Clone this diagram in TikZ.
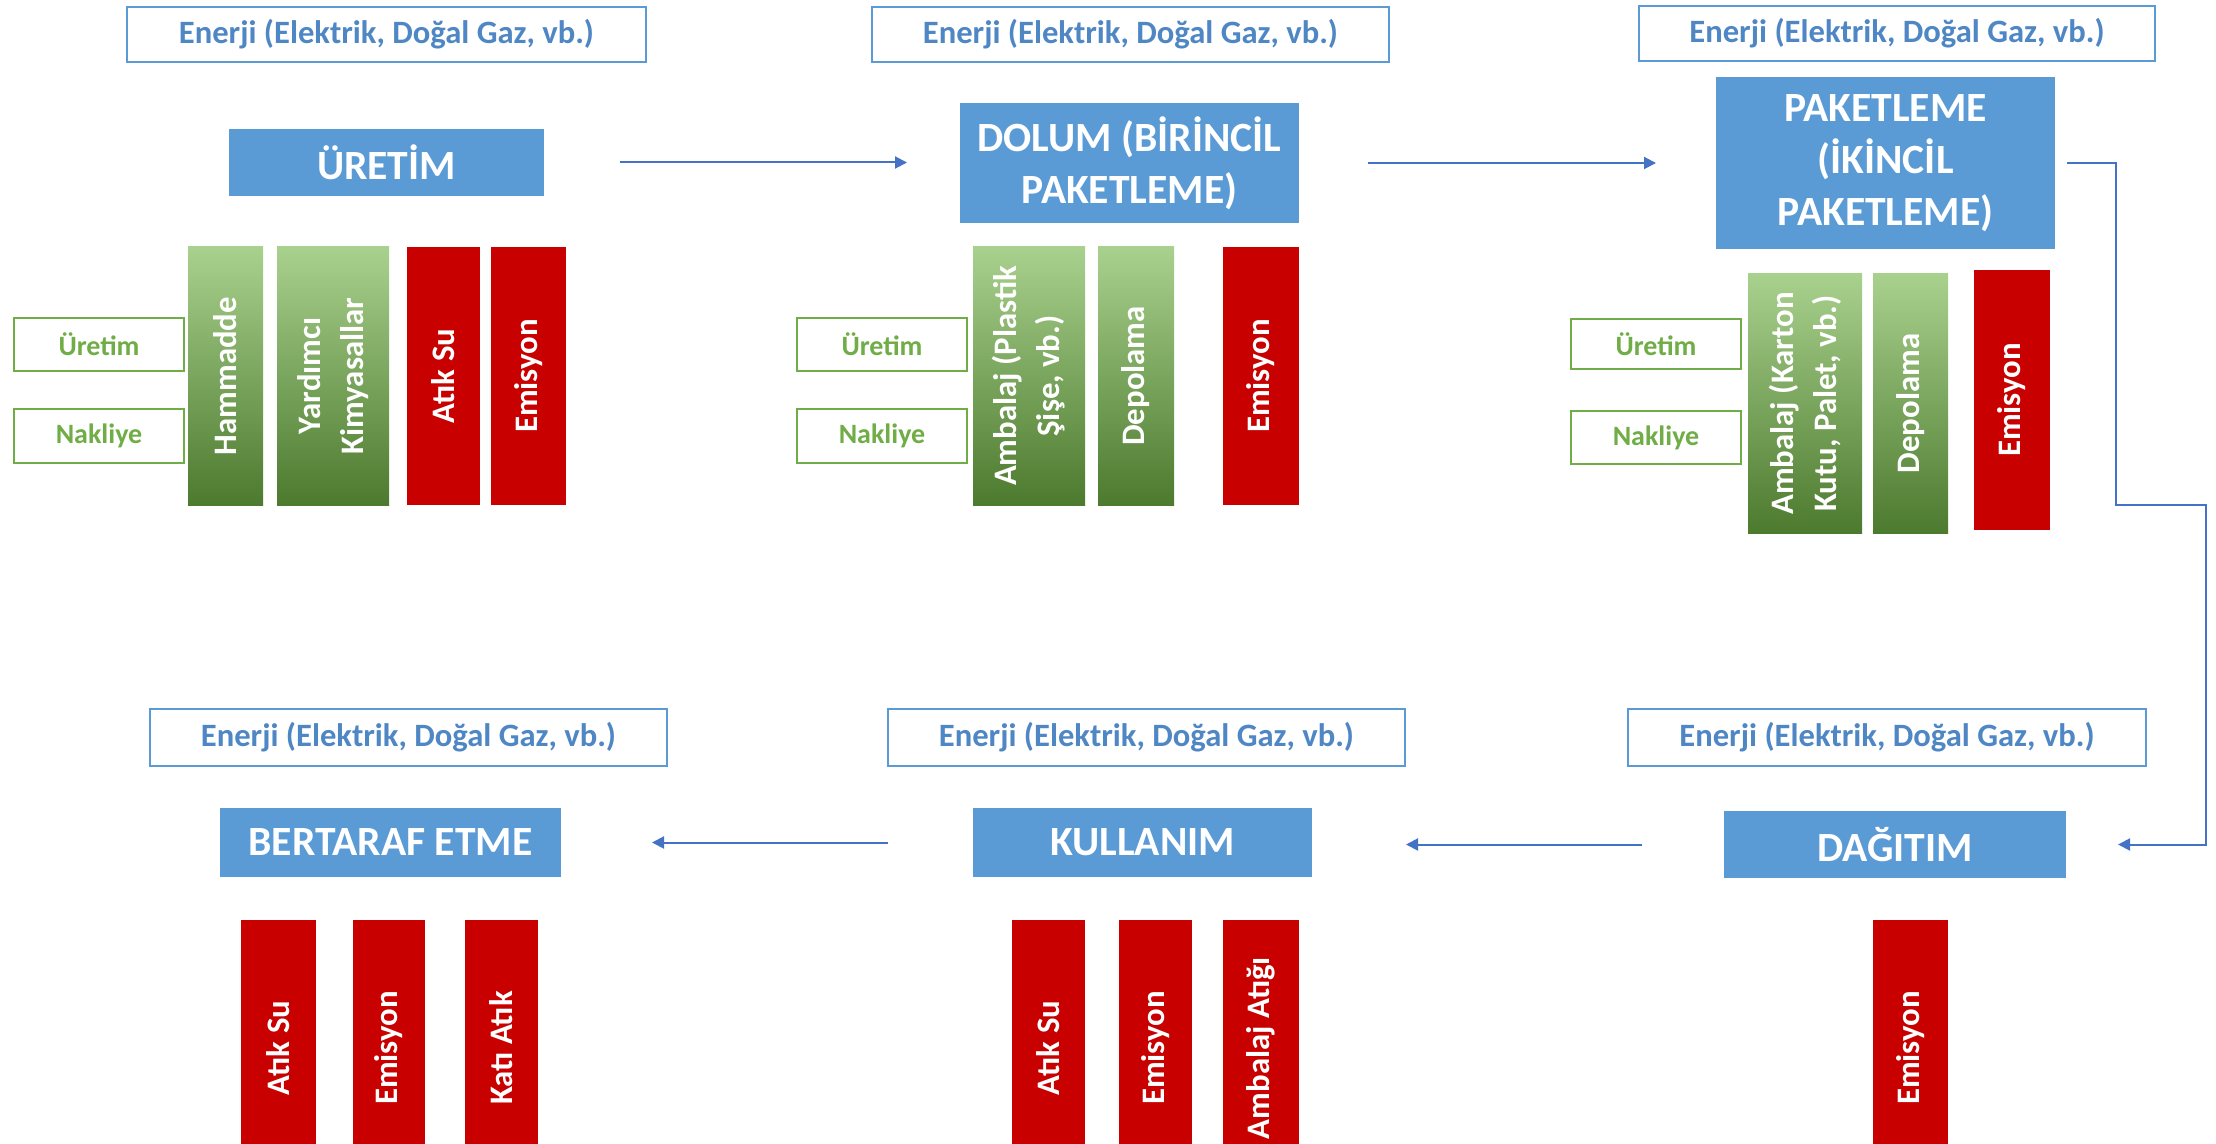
\documentclass[tikz,border=0pt]{standalone}
\usepackage{fontspec}
\setmainfont{Carlito}
\usetikzlibrary{arrows.meta}
\definecolor{boxblue}{HTML}{5B9BD5}
\definecolor{entext}{HTML}{4F87C5}
\definecolor{arrblue}{HTML}{4472C4}
\definecolor{gtop}{HTML}{A9D18E}
\definecolor{gmid}{HTML}{70AD47}
\definecolor{gbot}{HTML}{4C7A2E}
\definecolor{redfill}{HTML}{C80000}
\definecolor{greenline}{HTML}{70AD47}
\tikzset{
 every node/.style={inner sep=0pt, outer sep=0pt},
 enbox/.style={draw=boxblue, line width=0.9pt, fill=white, text=entext, font=\bfseries\fontsize{16.3}{19}\selectfont},
 stage/.style={fill=boxblue, text=white, align=center, font=\bfseries\fontsize{20.8}{26}\selectfont},
 smallbox/.style={draw=greenline, line width=1pt, fill=white, text=greenline, font=\bfseries\fontsize{14}{16}\selectfont},
 greenbar/.style={top color=gtop, middle color=gmid, bottom color=gbot, draw=none},
 redbar/.style={fill=redfill, draw=none},
 bartext/.style={rotate=90, text=white, align=center, font=\bfseries\fontsize{16.4}{21.5}\selectfont},
 flow/.style={draw=arrblue, line width=1pt, -{Triangle[length=6pt,width=6pt]}},
}
% box from pixel corners: name, style, x1, y1, x2, y2, text
\newcommand\mkbox[7]{%
 \pgfmathsetmacro\bw{(#5-#3)/2}\pgfmathsetmacro\bh{(#6-#4)/2}%
 \node[#2, minimum width=\bw pt, minimum height=\bh pt] (#1) at ({(#3+#5)/2},{(#4+#6)/2}) {#7};}
\newcommand\mkbar[7]{\mkbox{#1}{#2}{#3}{#4}{#5}{#6}{}%
 \node[bartext] (#1t) at (#1.center) {#7};}
\newcommand\mkbarlow[7]{\mkbox{#1}{#2}{#3}{#4}{#5}{#6}{}%
 \node[bartext] (#1t) at ([yshift=-8pt]#1.center) {#7};}
\begin{document}
\begin{tikzpicture}[x=0.5pt,y=-0.5pt]
\useasboundingbox (0,0) rectangle (2216,1144);
\clip (0,0) rectangle (2216,1144);
% energy boxes
\mkbox{en1}{enbox}{127}{7}{646}{62}{Enerji (Elektrik, Doğal Gaz, vb.)}
\mkbox{en2}{enbox}{872}{7}{1389}{62}{Enerji (Elektrik, Doğal Gaz, vb.)}
\mkbox{en3}{enbox}{1639}{6}{2155}{61}{Enerji (Elektrik, Doğal Gaz, vb.)}
\mkbox{en4}{enbox}{150}{709}{667}{766}{Enerji (Elektrik, Doğal Gaz, vb.)}
\mkbox{en5}{enbox}{888}{709}{1405}{766}{Enerji (Elektrik, Doğal Gaz, vb.)}
\mkbox{en6}{enbox}{1628}{709}{2146}{766}{Enerji (Elektrik, Doğal Gaz, vb.)}
% stages
\mkbox{uretim}{stage}{229}{129}{544}{196}{ÜRETİM}
\mkbox{dolum}{stage}{960}{103}{1299}{223}{DOLUM (BİRİNCİL\\PAKETLEME)}
\mkbox{paket}{stage}{1716}{77}{2055}{249}{PAKETLEME\\(İKİNCİL\\PAKETLEME)}
\mkbox{bertaraf}{stage}{220}{808}{561}{877}{BERTARAF ETME}
\mkbox{kullanim}{stage}{973}{808}{1312}{877}{KULLANIM}
\mkbox{dagitim}{stage}{1724}{811}{2066}{878}{DAĞITIM}
% small boxes
\mkbox{ur1}{smallbox}{14}{318}{184}{371}{Üretim}
\mkbox{nk1}{smallbox}{14}{409}{184}{463}{Nakliye}
\mkbox{ur2}{smallbox}{797}{318}{967}{371}{Üretim}
\mkbox{nk2}{smallbox}{797}{409}{967}{463}{Nakliye}
\mkbox{ur3}{smallbox}{1571}{319}{1741}{369}{Üretim}
\mkbox{nk3}{smallbox}{1571}{411}{1741}{464}{Nakliye}
% bars top row
\mkbar{ham}{greenbar}{188}{247}{263}{505}{Hammadde}
\mkbar{yard}{greenbar}{277}{247}{389}{505}{Yardımcı\\Kimyasallar}
\mkbar{asa}{redbar}{407}{247}{480}{505}{Atık Su}
\mkbar{ema}{redbar}{491}{247}{566}{505}{Emisyon}
\mkbar{amb}{greenbar}{973}{247}{1085}{505}{Ambalaj (Plastik\\Şişe, vb.)}
\mkbar{depb}{greenbar}{1098}{247}{1174}{505}{Depolama}
\mkbar{emb}{redbar}{1223}{247}{1299}{505}{Emisyon}
\mkbar{ambc}{greenbar}{1748}{274}{1862}{533}{Ambalaj (Karton\\Kutu, Palet, vb.)}
\mkbar{depc}{greenbar}{1873}{274}{1948}{533}{Depolama}
\mkbar{emc}{redbar}{1974}{270}{2050}{530}{Emisyon}
% bars bottom row
\mkbarlow{asd}{redbar}{241}{920}{316}{1144}{Atık Su}
\mkbarlow{emd}{redbar}{353}{920}{425}{1144}{Emisyon}
\mkbarlow{kat}{redbar}{465}{920}{538}{1144}{Katı Atık}
\mkbarlow{ase}{redbar}{1012}{920}{1085}{1144}{Atık Su}
\mkbarlow{eme}{redbar}{1119}{920}{1192}{1144}{Emisyon}
\mkbarlow{aat}{redbar}{1223}{920}{1299}{1144}{Ambalaj Atığı}
\mkbarlow{emf}{redbar}{1873}{920}{1948}{1144}{Emisyon}
% connectors
\draw[flow, shorten <=38pt, shorten >=26.5pt] (uretim.east) -- (uretim.east -| dolum.west);
\draw[flow, shorten <=34.5pt, shorten >=30pt] (dolum.east) -- (dolum.east -| paket.west);
\coordinate (k1) at (2116,505);
\coordinate (k2) at ([xshift=70pt]dagitim.east);
\draw[flow, shorten >=26pt] ([xshift=6pt]paket.east) -| (k1) -| (k2) -- (dagitim.east);
\draw[flow, shorten <=41pt, shorten >=47pt] (dagitim.west) -- (dagitim.west -| kullanim.east);
\draw[flow, shorten <=42.5pt, shorten >=45.5pt] (kullanim.west) -- (kullanim.west -| bertaraf.east);
\end{tikzpicture}
\end{document}
